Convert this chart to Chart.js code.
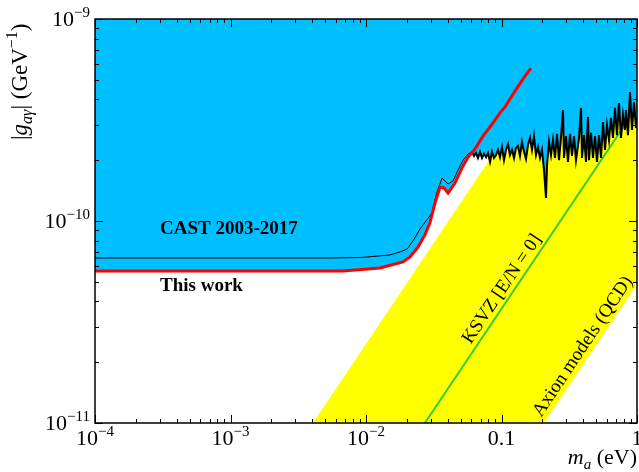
<!DOCTYPE html>
<html>
<head>
<meta charset="utf-8">
<script src="https://cdn.jsdelivr.net/npm/chart.js@4.4.1/dist/chart.umd.min.js"></script>
<style>
  html, body { margin: 0; padding: 0; background: #fff; }
  #wrap { width: 639px; height: 472px; }
</style>
</head>
<body>
<div id="wrap"><canvas id="chart" width="639" height="472"></canvas></div>
<script>
// axis ranges
const xMin = 1e-4, xMax = 1;
const yMin = 1e-11, yMax = 1e-9;

// tick labels as [base, exponent]
const xTickValues = [1e-4, 1e-3, 1e-2, 0.1, 1];
const xTickLabels = [['10', '\u22124'], ['10', '\u22123'], ['10', '\u22122'], ['0.1', ''], ['1', '']];
const yTickValues = [1e-11, 1e-10, 1e-9];
const yTickLabels = [['10', '\u221211'], ['10', '\u221210'], ['10', '\u22129']];

// CAST 2003-2017 limit (black curve)
const castMass = [1e-4, 0.00542, 0.00933, 0.01503, 0.01783, 0.0201, 0.02224, 0.0250, 0.0307, 0.0329,
  0.0364, 0.0403, 0.0439, 0.0478, 0.0520, 0.0566,
  0.0606, 0.0627, 0.0648, 0.0671, 0.0694, 0.0718, 0.0743, 0.0769, 0.0795, 0.0823,
  0.0851, 0.0881, 0.0911, 0.0942, 0.0975, 0.1009, 0.1043, 0.1080, 0.1117, 0.1155,
  0.1195, 0.1237, 0.1279, 0.1323, 0.1369, 0.1417, 0.1466, 0.1516, 0.1569, 0.1623,
  0.1679, 0.1737, 0.1797, 0.1859, 0.1923, 0.1990, 0.2059, 0.2130, 0.2167, 0.2242,
  0.2319, 0.2399, 0.2482, 0.2568, 0.2657, 0.2749, 0.2843, 0.2892, 0.2992, 0.3095,
  0.3202, 0.3313, 0.3427, 0.3546, 0.3733, 0.3862, 0.3928, 0.4064, 0.4204, 0.4350,
  0.4424, 0.4577, 0.4735, 0.4898, 0.5068, 0.5243, 0.5424, 0.5611, 0.5804, 0.6005,
  0.6213, 0.6427, 0.6649, 0.6879, 0.7116, 0.7362, 0.7617, 0.7880, 0.8152, 0.8294,
  0.8581, 0.8877, 0.9185, 0.9503, 0.9831, 1.0];
const castG = [6.56e-11, 6.56e-11, 6.60e-11, 6.79e-11, 7.03e-11, 7.27e-11, 7.96e-11, 9.12e-11, 1.096e-10, 1.345e-10,
  1.633e-10, 1.525e-10, 1.578e-10, 1.79e-10, 2.00e-10, 2.15e-10,
  2.20e-10, 2.10e-10, 2.17e-10, 2.05e-10, 2.20e-10, 2.05e-10, 2.15e-10, 2.07e-10, 2.17e-10, 1.96e-10,
  2.20e-10, 2.05e-10, 2.12e-10, 2.25e-10, 2.07e-10, 2.32e-10, 2.00e-10, 2.25e-10, 2.40e-10, 2.12e-10,
  2.25e-10, 2.05e-10, 2.30e-10, 2.35e-10, 2.10e-10, 2.46e-10, 2.20e-10, 2.03e-10, 2.38e-10, 2.58e-10,
  2.25e-10, 2.63e-10, 2.12e-10, 2.32e-10, 2.05e-10, 2.25e-10, 1.79e-10, 1.30e-10, 1.89e-10, 2.46e-10,
  2.12e-10, 2.52e-10, 2.05e-10, 2.70e-10, 2.00e-10, 2.60e-10, 3.54e-10, 2.05e-10, 2.63e-10, 1.96e-10,
  2.70e-10, 2.10e-10, 2.63e-10, 2.00e-10, 2.58e-10, 3.63e-10, 2.05e-10, 2.66e-10, 1.96e-10, 3.27e-10,
  2.00e-10, 2.73e-10, 2.05e-10, 2.63e-10, 1.96e-10, 2.66e-10, 2.05e-10, 3.09e-10, 2.25e-10, 2.99e-10,
  2.52e-10, 3.24e-10, 2.58e-10, 3.63e-10, 2.66e-10, 3.84e-10, 2.58e-10, 3.35e-10, 2.82e-10, 3.54e-10,
  2.66e-10, 4.35e-10, 2.82e-10, 3.88e-10, 2.89e-10, 3.24e-10];

// This work (red curve)
const thisMass = [1e-4, 0.00676, 0.01268, 0.01875, 0.02113, 0.0242, 0.0272, 0.0296, 0.0323, 0.0352,
  0.0377, 0.0403, 0.0454, 0.0510, 0.0566, 0.0637, 0.0730, 0.0822, 0.0895, 0.0975,
  0.1062, 0.1155, 0.130, 0.1443, 0.165];
const thisG = [5.65e-11, 5.65e-11, 5.85e-11, 6.27e-11, 6.64e-11, 7.43e-11, 8.53e-11, 9.77e-11, 1.227e-10, 1.473e-10,
  1.456e-10, 1.376e-10, 1.542e-10, 1.828e-10, 2.07e-10, 2.27e-10, 2.63e-10, 2.92e-10, 3.16e-10, 3.43e-10,
  3.67e-10, 4.02e-10, 4.55e-10, 5.05e-10, 5.72e-10];

// KSVZ [E/N = 0] line
const ksvzMass = [0.0272, 1];
const ksvzG = [1e-11, 3.68e-10];

// QCD axion model band edges
const bandUpperMass = [0.00406, 0.406];
const bandUpperG = [1e-11, 1e-9];
const bandLowerMass = [0.206, 1];
const bandLowerG = [1e-11, 4.85e-11];

const BLUE = '#00bfff';
const YELLOW = '#ffff00';
const SERIF = '"Liberation Serif", "Times New Roman", serif';

function toPoints(xs, ys) {
    return xs.map((x, i) => ({ x: x, y: ys[i] }));
}

const castPts = toPoints(castMass, castG);
const thisPts = toPoints(thisMass, thisG);
const bandShape = toPoints(bandUpperMass, bandUpperG)
    .concat([{ x: xMax, y: yMax }])
    .concat(toPoints(bandLowerMass, bandLowerG).reverse());

// draw a run of text pieces: [text, font, dy]
function drawParts(ctx, parts, x, y) {
    let cx = x;
    parts.forEach(p => {
        ctx.font = p[1];
        ctx.fillText(p[0], cx, y + (p[2] || 0));
        cx += ctx.measureText(p[0]).width;
    });
}
function partsWidth(ctx, parts) {
    let w = 0;
    parts.forEach(p => { ctx.font = p[1]; w += ctx.measureText(p[0]).width; });
    return w;
}

const framePlugin = {
    id: 'frame',
    afterDatasetsDraw(chart) {
        const ctx = chart.ctx;
        const a = chart.chartArea;
        const xs = chart.scales.x, ys = chart.scales.y;
        ctx.save();
        ctx.strokeStyle = '#000';
        ctx.fillStyle = '#000';
        ctx.lineWidth = 1;

        // tick marks on all four sides, pointing inwards
        ctx.beginPath();
        for (let d = -4; d <= 0; d++) {
            for (let k = 1; k <= 9; k++) {
                const v = k * Math.pow(10, d);
                if (v > xMax * 1.0001) break;
                const px = Math.round(xs.getPixelForValue(v)) + 0.5;
                const len = k === 1 ? 8 : 4;
                ctx.moveTo(px, a.bottom); ctx.lineTo(px, a.bottom - len);
                ctx.moveTo(px, a.top); ctx.lineTo(px, a.top + len);
            }
        }
        for (let d = -11; d <= -9; d++) {
            for (let k = 1; k <= 9; k++) {
                const v = k * Math.pow(10, d);
                if (v > yMax * 1.0001) break;
                const py = Math.round(ys.getPixelForValue(v)) + 0.5;
                const len = k === 1 ? 8 : 4;
                ctx.moveTo(a.left, py); ctx.lineTo(a.left + len, py);
                ctx.moveTo(a.right, py); ctx.lineTo(a.right - len, py);
            }
        }
        ctx.stroke();

        ctx.lineWidth = 1.5;
        ctx.strokeRect(a.left, a.top, a.right - a.left, a.bottom - a.top);

        // tick labels
        const big = '22px ' + SERIF, small = '15px ' + SERIF;
        ctx.textBaseline = 'alphabetic';
        ctx.textAlign = 'left';
        xTickValues.forEach((v, i) => {
            const parts = [[xTickLabels[i][0], big, 0], [xTickLabels[i][1], small, -9]];
            const w = partsWidth(ctx, parts);
            drawParts(ctx, parts, xs.getPixelForValue(v) - w / 2, a.bottom + 22);
        });
        yTickValues.forEach((v, i) => {
            const parts = [[yTickLabels[i][0], big, 0], [yTickLabels[i][1], small, -9]];
            const w = partsWidth(ctx, parts);
            drawParts(ctx, parts, a.left - 5 - w, ys.getPixelForValue(v) + 7);
        });

        // x title
        const xt = [['m', 'italic 22px ' + SERIF, 0], ['a', 'italic 15px ' + SERIF, 5], [' (eV)', '22px ' + SERIF, 0]];
        drawParts(ctx, xt, a.right - partsWidth(ctx, xt), a.bottom + 41);

        // y title
        ctx.save();
        ctx.translate(27, 140);
        ctx.rotate(-Math.PI / 2);
        drawParts(ctx, [['|', '23px ' + SERIF, 0], ['g', 'italic 23px ' + SERIF, 0],
            ['a\u03b3', 'italic 16px ' + SERIF, 5], ['| (GeV', '23px ' + SERIF, 0],
            ['\u22121', '16px ' + SERIF, -10], [')', '23px ' + SERIF, 0]], 0, 0);
        ctx.restore();

        // labels inside the plot
        ctx.font = 'bold 19px ' + SERIF;
        ctx.textBaseline = 'middle';
        ctx.fillText('CAST 2003-2017', xs.getPixelForValue(3.02e-4), ys.getPixelForValue(9.12e-11));
        ctx.fillText('This work', xs.getPixelForValue(3.02e-4), ys.getPixelForValue(4.77e-11));

        const p0x = xs.getPixelForValue(ksvzMass[0]), p0y = ys.getPixelForValue(ksvzG[0]);
        const p1x = xs.getPixelForValue(ksvzMass[1]), p1y = ys.getPixelForValue(ksvzG[1]);
        const ang = Math.atan2(p1y - p0y, p1x - p0x);
        ctx.textAlign = 'center';
        ctx.font = '19px ' + SERIF;
        [['KSVZ [E/N = 0]', 0.101, 4.6e-11], ['Axion models (QCD)', 0.399, 2.39e-11]].forEach(t => {
            ctx.save();
            ctx.translate(xs.getPixelForValue(t[1]), ys.getPixelForValue(t[2]));
            ctx.rotate(ang);
            ctx.fillText(t[0], 0, 0);
            ctx.restore();
        });
        ctx.restore();
    }
};

const noLine = 'rgba(0,0,0,0)';
const ctx = document.getElementById('chart').getContext('2d');
const chart = new Chart(ctx, {
    type: 'scatter',
    data: {
        datasets: [
            { label: 'QCD band', data: bandShape, showLine: true, fill: 'shape',
              backgroundColor: YELLOW, borderColor: noLine, borderWidth: 0, order: 6 },
            { label: 'KSVZ', data: toPoints(ksvzMass, ksvzG), showLine: true, fill: false,
              borderColor: '#33cc33', borderWidth: 2, order: 5 },
            { label: 'This work fill', data: thisPts, showLine: true, fill: 'end',
              backgroundColor: BLUE, borderColor: noLine, borderWidth: 0, order: 4 },
            { label: 'CAST fill', data: castPts, showLine: true, fill: 'end',
              backgroundColor: BLUE, borderColor: noLine, borderWidth: 0, order: 3 },
            { label: 'CAST 2003-2017', data: castPts, showLine: true, fill: false,
              borderColor: '#000000', borderWidth: 1,
              // the noisy high-mass part looks heavier in the original
              segment: { borderWidth: c => c.p0.parsed.x > 0.058 ? 2 : 1 },
              order: 2 },
            { label: 'This work', data: thisPts, showLine: true, fill: false,
              borderColor: '#ff0000', borderWidth: 3, order: 1 }
        ]
    },
    options: {
        responsive: false,
        animation: false,
        devicePixelRatio: 1,
        layout: { padding: { left: 95, right: 2, top: 19, bottom: 49 } },
        elements: { point: { radius: 0, hoverRadius: 0 }, line: { tension: 0 } },
        scales: {
            x: { type: 'logarithmic', min: xMin, max: xMax, display: false },
            y: { type: 'logarithmic', min: yMin, max: yMax, display: false }
        },
        plugins: {
            legend: { display: false },
            tooltip: { enabled: false }
        }
    },
    plugins: [framePlugin]
});
</script>
</body>
</html>
